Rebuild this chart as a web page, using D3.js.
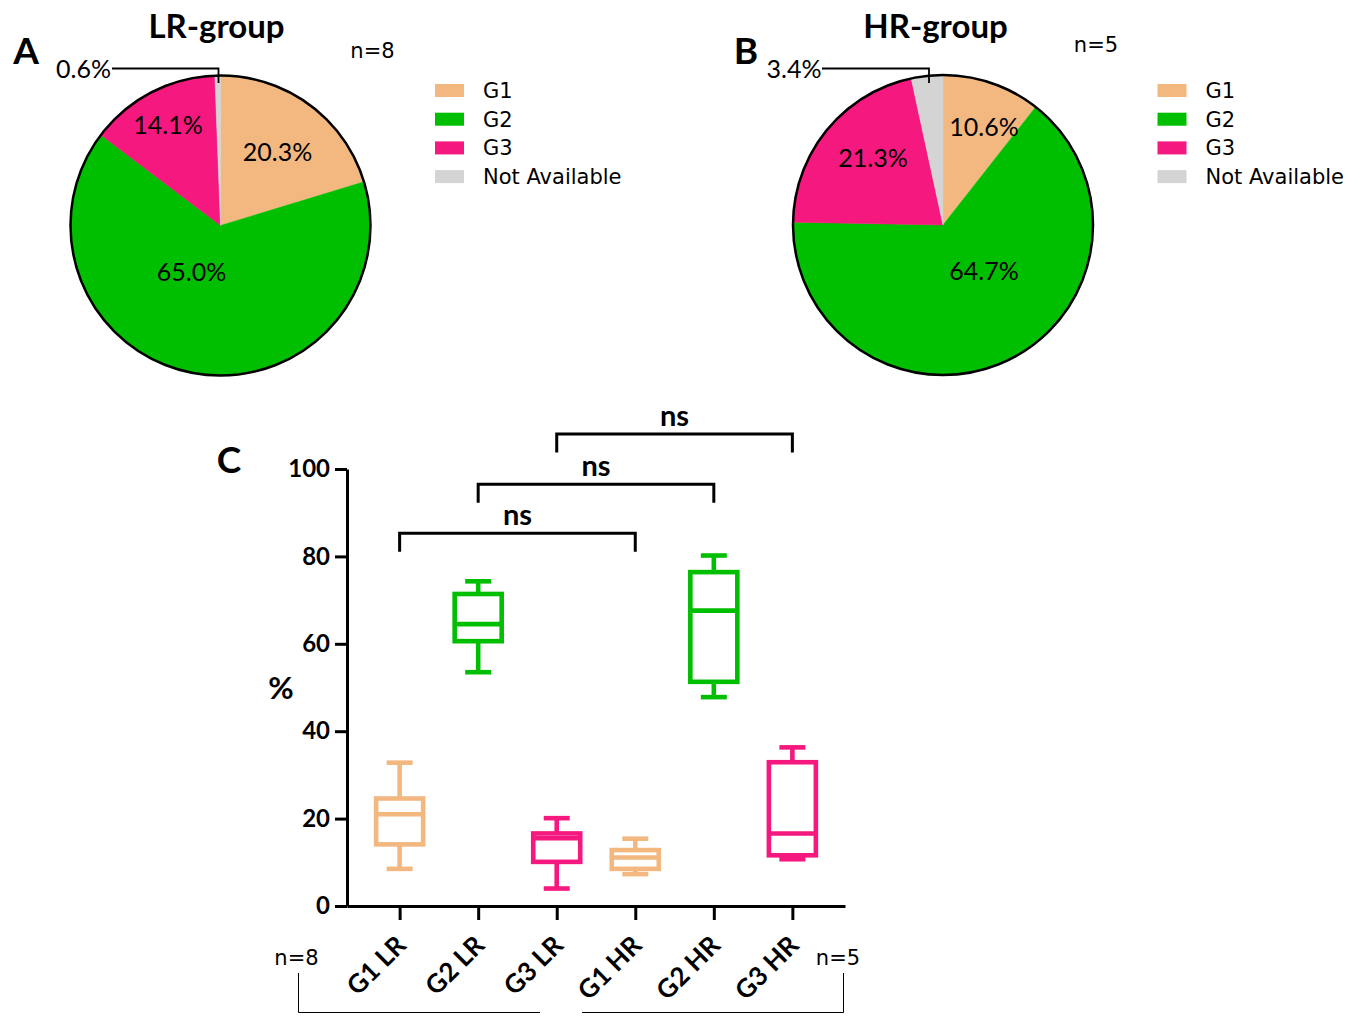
<!DOCTYPE html>
<html>
<head>
<meta charset="utf-8">
<script src="https://cdn.jsdelivr.net/npm/d3@7"></script>
<style>
  html, body { margin: 0; padding: 0; background: #fff; }
  svg { display: block; }
</style>
</head>
<body>
<svg id="chart" width="1358" height="1026"></svg>
<script>
// ---------------- DATA ----------------
const pieCategories = ["G1", "G2", "G3", "Not Available"];
const lrPieValues = [20.3, 65.0, 14.1, 0.6];
const hrPieValues = [10.6, 64.7, 21.3, 3.4];
const lrN = "n=8";
const hrN = "n=5";

const boxCategories = ["G1 LR", "G2 LR", "G3 LR", "G1 HR", "G2 HR", "G3 HR"];
const boxGroups = ["G1", "G2", "G3", "G1", "G2", "G3"];
const boxMin    = [8.5, 53.5, 4.0, 7.3, 47.8, 10.7];
const boxQ1     = [14.1, 60.6, 10.1, 8.5, 51.3, 11.6];
const boxMedian = [21.0, 64.5, 15.5, 11.1, 67.6, 16.6];
const boxQ3     = [24.6, 71.4, 16.6, 12.8, 76.4, 32.9];
const boxMax    = [32.8, 74.3, 20.1, 15.4, 80.2, 36.3];
const yTicks = [0, 20, 40, 60, 80, 100];

const sigPairs = [["G1 LR", "G1 HR"], ["G2 LR", "G2 HR"], ["G3 LR", "G3 HR"]];
const sigLevels = [85.3, 96.5, 108.0];
const sigLabels = ["ns", "ns", "ns"];

// ---------------- STYLE / LAYOUT ----------------
const colors = { "G1": "#F2B880", "G2": "#00BF00", "G3": "#F5187F", "Not Available": "#D4D4D4" };
const titleFont = "Lato, 'Open Sans', sans-serif";
const textFont = "'DejaVu Sans', Verdana, sans-serif";

const svg = d3.select("#chart");

// Pie panels
const pieR = 150;
const panels = [
  { letter: "A", lx: 26, title: "LR-group", tx: 216.5, cx: 220.5, cy: 225.5, values: lrPieValues, n: lrN, nx: 372.5, ny: 50,
    legX: 435, legY: 90.5,
    labelOffsets: [[57, -74], [-29, 46], [-52.5, -101], null],
    small: { idx: 3, textX: 83.5, lineX0: 112, y: 68.5, lineX1: 218.5, lineY1: 83 } },
  { letter: "B", lx: 746, title: "HR-group", tx: 935.5, cx: 943, cy: 225, values: hrPieValues, n: hrN, nx: 1096, ny: 44,
    legX: 1157.5, legY: 90.5,
    labelOffsets: [[41, -98], [41, 46], [-70, -67], null],
    small: { idx: 3, textX: 794, lineX0: 822, y: 68.5, lineX1: 929, lineY1: 83 } }
];

const pie = d3.pie().sort(null).value(d => d);
const arc = d3.arc().innerRadius(0).outerRadius(pieR);

panels.forEach(p => {
  const g = svg.append("g");
  g.append("text").attr("x", p.lx).attr("y", 64).attr("text-anchor", "middle")
    .attr("font-family", titleFont).attr("font-weight", 700).attr("font-size", 37).text(p.letter);
  g.append("text").attr("x", p.tx).attr("y", 38).attr("text-anchor", "middle")
    .attr("font-family", titleFont).attr("font-weight", 700).attr("font-size", 33).text(p.title);
  g.append("text").attr("x", p.nx).attr("y", p.ny).attr("dy", "0.36em").attr("text-anchor", "middle")
    .attr("font-family", textFont).attr("font-size", 21).text(p.n);

  const pg = g.append("g").attr("transform", `translate(${p.cx},${p.cy})`);
  const arcs = pie(p.values);
  pg.selectAll("path.slice").data(arcs).join("path").attr("class", "slice")
    .attr("d", arc).attr("fill", (d, i) => colors[pieCategories[i]])
    .attr("stroke", (d, i) => colors[pieCategories[i]]).attr("stroke-width", 0.5);
  pg.append("circle").attr("r", pieR).attr("fill", "none").attr("stroke", "#000").attr("stroke-width", 2.5);

  arcs.forEach((d, i) => {
    const off = p.labelOffsets[i];
    if (!off) return;
    pg.append("text").attr("x", off[0]).attr("y", off[1]).attr("dy", "0.36em").attr("text-anchor", "middle")
      .attr("font-family", titleFont).attr("font-size", 25).attr("fill", "#000")
      .text(p.values[i].toFixed(1) + "%");
  });

  // small slice label with leader line
  const s = p.small;
  g.append("path").attr("d", `M${s.lineX0},${s.y}H${s.lineX1}V${s.lineY1}`)
    .attr("fill", "none").attr("stroke", "#000").attr("stroke-width", 1.8);
  g.append("text").attr("x", s.textX).attr("y", s.y).attr("dy", "0.36em").attr("text-anchor", "middle")
    .attr("font-family", titleFont).attr("font-size", 25).text(p.values[s.idx].toFixed(1) + "%");

  // legend
  const leg = g.append("g").attr("transform", `translate(${p.legX},${p.legY})`);
  pieCategories.forEach((c, i) => {
    const row = leg.append("g").attr("transform", `translate(0,${i * 28.7})`);
    row.append("rect").attr("x", 0).attr("y", -6.5).attr("width", 29).attr("height", 13).attr("fill", colors[c]);
    row.append("text").attr("x", 48).attr("y", 0).attr("dy", "0.36em")
      .attr("font-family", textFont).attr("font-size", 21).text(c);
  });
});

// ---------------- BOX PLOT ----------------
const y = d3.scaleLinear().domain([0, 100]).range([906, 469]);
const x = d3.scalePoint().domain(boxCategories).range([347, 845]).padding(0.67);

svg.append("text").attr("x", 229).attr("y", 473).attr("text-anchor", "middle")
  .attr("font-family", titleFont).attr("font-weight", 700).attr("font-size", 37).text("C");

const yAxis = svg.append("g").attr("transform", "translate(347,0)")
  .call(d3.axisLeft(y).tickValues(yTicks).tickSize(12).tickSizeOuter(0).tickPadding(5));
const xAxis = svg.append("g").attr("transform", "translate(0,906)")
  .call(d3.axisBottom(x).tickSize(14).tickSizeOuter(0).tickFormat(""));
[yAxis, xAxis].forEach(a => {
  a.select(".domain").attr("stroke", "#000").attr("stroke-width", 3);
  a.selectAll(".tick line").attr("stroke", "#000").attr("stroke-width", 3);
});
yAxis.selectAll(".tick text").attr("font-family", titleFont).attr("font-weight", 700)
  .attr("font-size", 24).attr("fill", "#000");

// x labels rotated
svg.append("g").selectAll("text").data(boxCategories).join("text")
  .attr("transform", d => `translate(${x(d) + 8},${947}) rotate(-45)`)
  .attr("text-anchor", "end")
  .attr("font-family", titleFont).attr("font-weight", 700).attr("font-size", 26).text(d => d);

svg.append("text").attr("x", 281).attr("y", 688).attr("dy", "0.36em").attr("text-anchor", "middle")
  .attr("font-family", titleFont).attr("font-weight", 700).attr("font-size", 31).text("%");

// boxes
const boxW = 47, capW = 26, lw = 4.6;
const bg = svg.append("g");
boxCategories.forEach((c, i) => {
  const col = colors[boxGroups[i]];
  const cx = x(c);
  const g = bg.append("g").attr("stroke", col).attr("stroke-width", lw).attr("fill", "none");
  g.append("line").attr("x1", cx).attr("x2", cx).attr("y1", y(boxQ3[i])).attr("y2", y(boxMax[i]));
  g.append("line").attr("x1", cx).attr("x2", cx).attr("y1", y(boxQ1[i])).attr("y2", y(boxMin[i]));
  g.append("line").attr("x1", cx - capW / 2).attr("x2", cx + capW / 2).attr("y1", y(boxMax[i])).attr("y2", y(boxMax[i]));
  g.append("line").attr("x1", cx - capW / 2).attr("x2", cx + capW / 2).attr("y1", y(boxMin[i])).attr("y2", y(boxMin[i]));
  g.append("rect").attr("x", cx - boxW / 2).attr("width", boxW)
    .attr("y", y(boxQ3[i])).attr("height", y(boxQ1[i]) - y(boxQ3[i])).attr("fill", "#fff");
  g.append("line").attr("x1", cx - boxW / 2).attr("x2", cx + boxW / 2).attr("y1", y(boxMedian[i])).attr("y2", y(boxMedian[i]));
});

// significance brackets
const legLen = 18.5;
sigPairs.forEach((pr, i) => {
  const x0 = x(pr[0]), x1 = x(pr[1]), ly = y(sigLevels[i]);
  svg.append("path").attr("d", `M${x0},${ly + legLen}V${ly}H${x1}V${ly + legLen}`)
    .attr("fill", "none").attr("stroke", "#000").attr("stroke-width", 3);
  svg.append("text").attr("x", (x0 + x1) / 2).attr("y", ly - 8).attr("text-anchor", "middle")
    .attr("font-family", titleFont).attr("font-weight", 700).attr("font-size", 29).text(sigLabels[i]);
});

// group brackets below axis
svg.append("text").attr("x", 296.5).attr("y", 957).attr("dy", "0.36em").attr("text-anchor", "middle")
  .attr("font-family", textFont).attr("font-size", 21).text(lrN);
svg.append("text").attr("x", 838).attr("y", 957).attr("dy", "0.36em").attr("text-anchor", "middle")
  .attr("font-family", textFont).attr("font-size", 21).text(hrN);
svg.append("path").attr("d", "M298.5,973V1012.5H540").attr("fill", "none").attr("stroke", "#000").attr("stroke-width", 1);
svg.append("path").attr("d", "M582,1012.5H843.5V973").attr("fill", "none").attr("stroke", "#000").attr("stroke-width", 1);
</script>
</body>
</html>
